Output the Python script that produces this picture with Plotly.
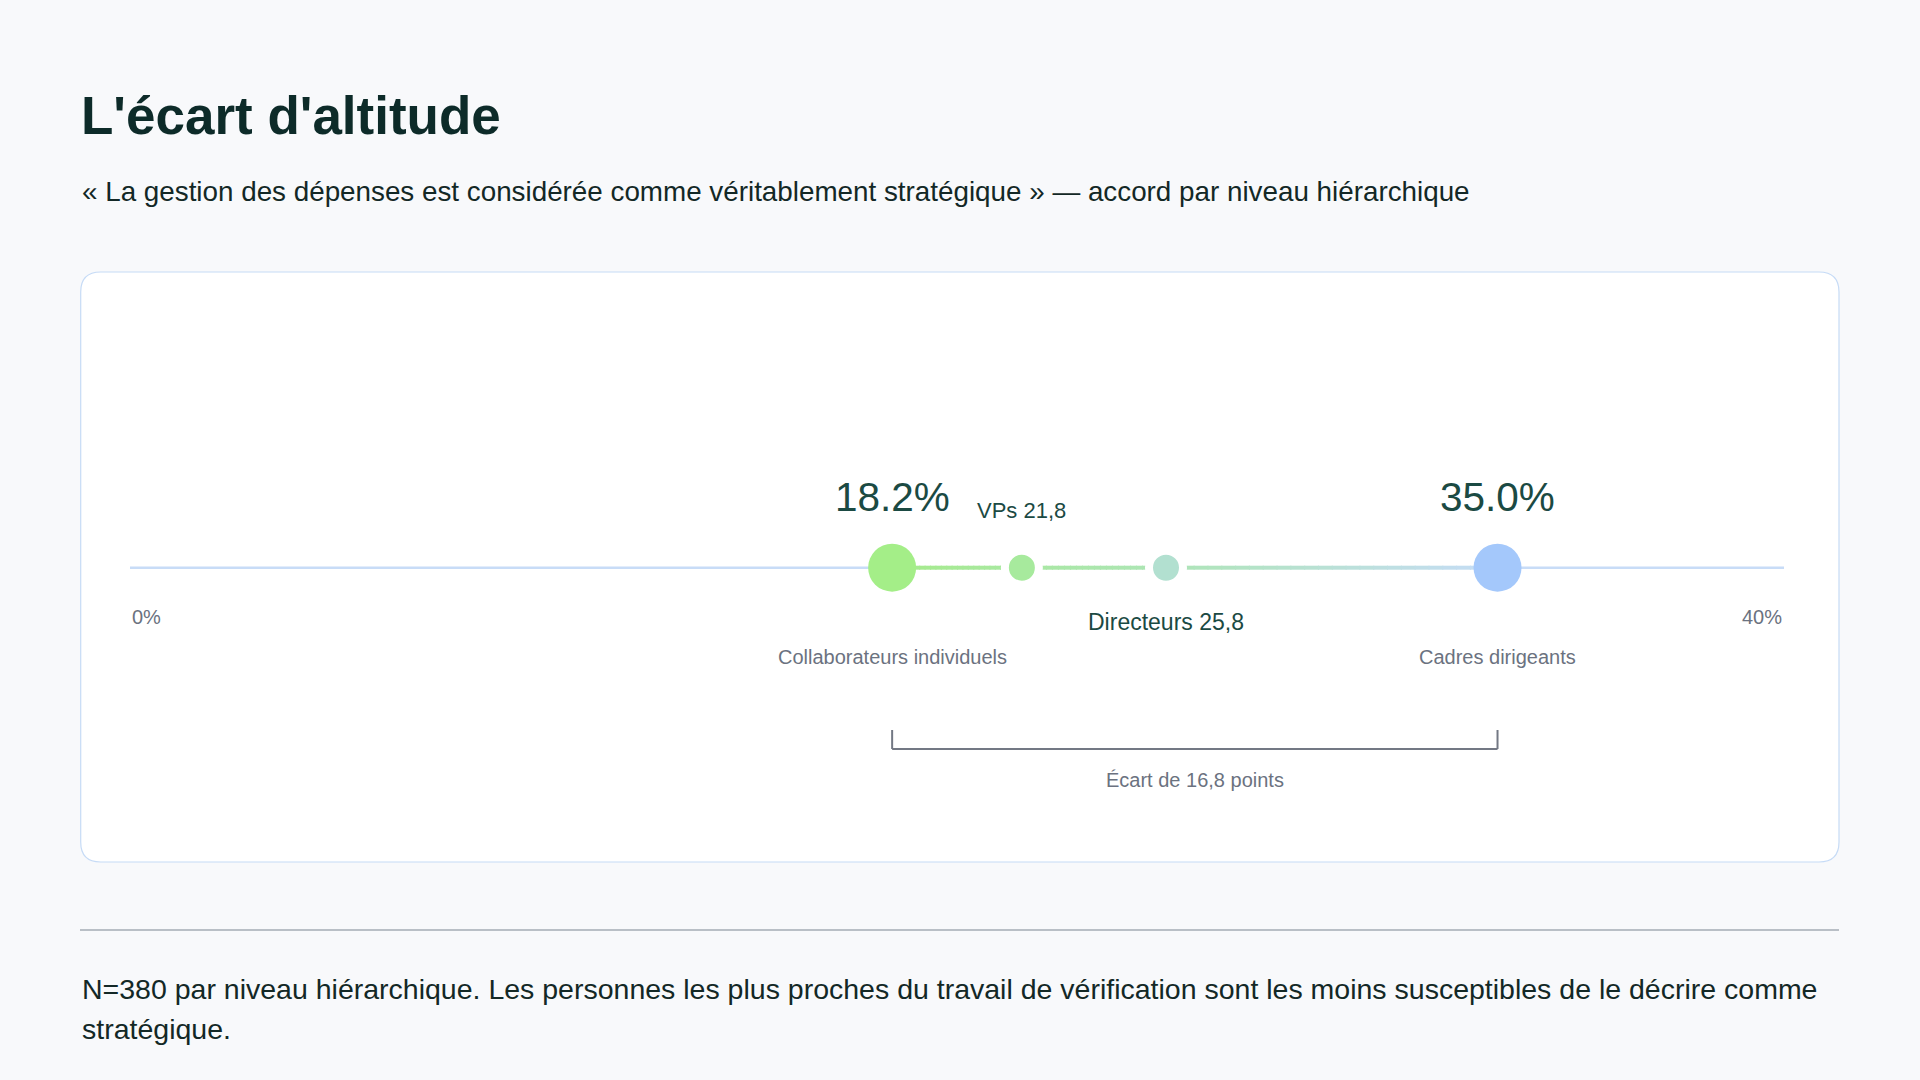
import numpy as np
import plotly.graph_objects as go

# data
levels = ["Collaborateurs individuels", "VPs", "Directeurs", "Cadres dirigeants"]
short_names = ["Collaborateurs individuels", "VPs", "Directeurs", "Cadres dirigeants"]
values = [18.2, 21.8, 25.8, 35.0]
tick_labels = ["0%", "40%"]

title = "L'écart d'altitude"
subtitle = ("« La gestion des dépenses est considérée comme véritablement stratégique » "
            "— accord par niveau hiérarchique")
note_lines = ["N=380 par niveau hiérarchique. Les personnes les plus proches du travail de "
              "vérification sont les moins susceptibles de le décrire comme",
              "stratégique."]

W, H = 1920, 1080
BG = "#f8f9fb"
FONT = "Liberation Sans, Arial, sans-serif"
DARK = "#0d2b29"
TEAL = "#1b4a43"
GREY = "#6b7280"

dot_colors = ["#a4ee88", "#a7ea9d", "#b2e0d0", "#a4c8fb"]
line_stops = ["#a5eb8b", "#a9e8a3", "#ade5b6", "#c6dcf7"]

AXIS_Y = 567.7


def px(x):
    return x / W


def mix(c1, c2, t):
    a = np.array([int(c1[i:i + 2], 16) for i in (1, 3, 5)])
    b = np.array([int(c2[i:i + 2], 16) for i in (1, 3, 5)])
    c = np.round(a + (b - a) * t).astype(int)
    return "#%02x%02x%02x" % tuple(c)


def rounded_rect(x0, y0, x1, y1, r):
    # x in paper units, y in pixel units (y axis is pixel space)
    rx = r / W
    X0, X1 = px(x0), px(x1)
    return (f"M {X0 + rx},{y0} L {X1 - rx},{y0} Q {X1},{y0} {X1},{y0 + r} "
            f"L {X1},{y1 - r} Q {X1},{y1} {X1 - rx},{y1} L {X0 + rx},{y1} "
            f"Q {X0},{y1} {X0},{y1 - r} L {X0},{y0 + r} Q {X0},{y0} {X0 + rx},{y0} Z")


fig = go.Figure()

shapes = []
# card
shapes.append(dict(type="path", path=rounded_rect(80.7, 272, 1839, 862, 20),
                   xref="paper", yref="y", fillcolor="white",
                   line=dict(color="#c6dbf6", width=1.2), layer="below"))
# base axis line
shapes.append(dict(type="line", xref="x domain", yref="y", x0=0, x1=1,
                   y0=AXIS_Y, y1=AXIS_Y, line=dict(color="#c8dcf7", width=2.5),
                   layer="below"))
# connector between levels, colour blended from stop to stop
n = 24
for i in range(len(values) - 1):
    a, b = values[i], values[i + 1]
    step = (b - a) / n
    for k in range(n):
        shapes.append(dict(type="line", xref="x", yref="y",
                           x0=a + k * step, x1=a + (k + 1) * step + 0.03,
                           y0=AXIS_Y, y1=AXIS_Y,
                           line=dict(color=mix(line_stops[i], line_stops[i + 1], (k + 0.5) / n),
                                     width=4),
                           layer="below"))
# gap bracket
lo, hi = values[0], values[-1]
bracket = dict(color="#737884", width=2)
shapes.append(dict(type="line", xref="x", yref="y", x0=lo, x1=hi, y0=749, y1=749,
                   line=bracket))
shapes.append(dict(type="line", xref="x", yref="y", x0=lo, x1=lo, y0=730, y1=749,
                   line=bracket))
shapes.append(dict(type="line", xref="x", yref="y", x0=hi, x1=hi, y0=730, y1=749,
                   line=bracket))
# rule above the note
shapes.append(dict(type="line", xref="paper", yref="y", x0=px(80), x1=px(1839),
                   y0=930, y1=930, line=dict(color="#b9bfc6", width=2)))

fig.add_trace(go.Scatter(
    x=values, y=[AXIS_Y] * len(values), mode="markers",
    marker=dict(size=[48, 34, 34, 48], color=dot_colors,
                line=dict(color="white", width=[0, 8, 8, 0]), opacity=1),
    hoverinfo="skip", cliponaxis=False, showlegend=False))

ann = []
ann.append(dict(text=title, x=px(79), y=115, xref="paper", yref="y",
                xanchor="left", yanchor="middle", showarrow=False,
                font=dict(family=FONT, size=53, color=DARK, weight="bold")))
ann.append(dict(text=subtitle, x=px(80), y=191, xref="paper", yref="y",
                xanchor="left", yanchor="middle", showarrow=False,
                font=dict(family=FONT, size=27.8, color="#132826")))

# end values, big
for i in (0, len(values) - 1):
    ann.append(dict(text=f"{values[i]:.1f}%", x=values[i], y=497, xref="x", yref="y",
                    showarrow=False, font=dict(family=FONT, size=40.5, color=TEAL)))
    ann.append(dict(text=levels[i], x=values[i], y=657, xref="x", yref="y",
                    showarrow=False, font=dict(family=FONT, size=20, color=GREY)))
# middle levels, alternating above/below
mid_y = [510, 622]
mid_size = [22, 23]
for j, i in enumerate(range(1, len(values) - 1)):
    ann.append(dict(text=f"{short_names[i]} {values[i]:.1f}".replace(".", ","),
                    x=values[i], y=mid_y[j], xref="x", yref="y", showarrow=False,
                    font=dict(family=FONT, size=mid_size[j], color=TEAL)))

ann.append(dict(text=tick_labels[0], x=0, y=617, xref="x domain", yref="y",
                xanchor="left", showarrow=False, font=dict(family=FONT, size=20, color=GREY)))
ann.append(dict(text=tick_labels[1], x=1, y=617, xref="x domain", yref="y",
                xanchor="right", showarrow=False, font=dict(family=FONT, size=20, color=GREY)))

gap = f"{hi - lo:.1f}".replace(".", ",")
ann.append(dict(text=f"Écart de {gap} points", x=(lo + hi) / 2, y=780, xref="x", yref="y",
                showarrow=False, font=dict(family=FONT, size=20, color=GREY)))

for k, line in enumerate(note_lines):
    ann.append(dict(text=line, x=px(80), y=989 + 40 * k, xref="paper", yref="y",
                    xanchor="left", yanchor="middle", showarrow=False,
                    font=dict(family=FONT, size=28.5, color="#132826")))

fig.update_layout(
    width=W, height=H, margin=dict(l=0, r=0, t=0, b=0),
    paper_bgcolor=BG, plot_bgcolor="rgba(0,0,0,0)",
    xaxis=dict(domain=[px(130), px(1784)], range=[-2.95, 42.95], visible=False),
    yaxis=dict(domain=[0, 1], range=[H, 0], visible=False),
    shapes=shapes, annotations=ann, hovermode=False,
)

fig.write_html("out.html", config={"displayModeBar": False},
               post_script=f"document.body.style.margin='0';document.body.style.background='{BG}';")
